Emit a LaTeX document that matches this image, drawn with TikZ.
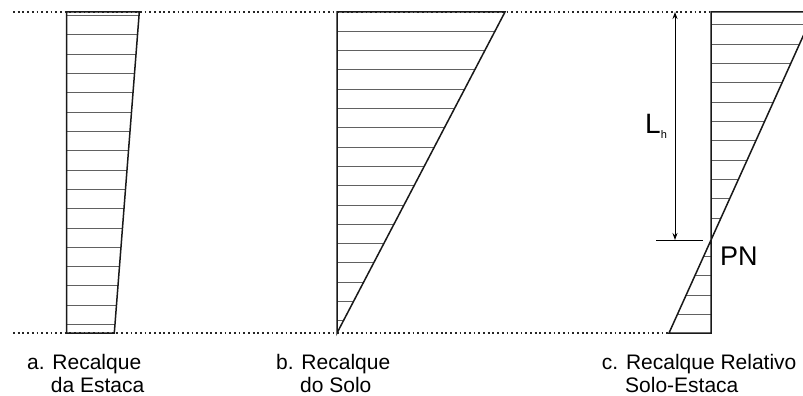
\documentclass[tikz,border=0pt]{standalone}
\usepackage{fontspec}
\setmainfont{Liberation Sans}
\usetikzlibrary{arrows.meta}

\begin{document}
\begin{tikzpicture}[x=1pt,y=-1pt,
  outline/.style={draw=black!90,line width=1.5pt,line join=miter},
  hatch/.style={draw=black!62,line width=1pt},
  datum/.style={draw=black!85,line width=1.5pt,dash pattern=on 1.8pt off 2.9pt},
  caption/.style={anchor=base west,inner sep=0pt,font=\fontsize{21}{24}\selectfont},
  dimline/.style={draw=black,line width=1pt,{Stealth[length=7pt,width=5pt]}-{Stealth[length=7pt,width=5pt]}}]
\useasboundingbox (0,0) rectangle (803,396);
\fill[white] (0,0) rectangle (803,396);
\begin{scope}
\clip (0,0) rectangle (803,396);
% datum lines
\draw[datum] (13,12) -- (711,12);
\draw[datum] (13,333) -- (669,333);
% a. pile settlement
\begin{scope}
\clip (66.7,12) -- (139.3,12) -- (114.3,333) -- (66.7,333) -- cycle;
\foreach \k in {0,...,16} \draw[hatch] (60,15.7+19.3*\k) -- (150,15.7+19.3*\k);
\end{scope}
\draw[outline] (66.7,12) -- (139.3,12) -- (114.3,333) -- (66.7,333) -- cycle;
% b. soil settlement
\begin{scope}
\clip (337,12) -- (505,12) -- (337,333) -- cycle;
\foreach \k in {1,...,16} \draw[hatch] (330,12+19.3*\k) -- (510,12+19.3*\k);
\end{scope}
\draw[outline] (337,12) -- (505,12) -- (337,333) -- cycle;
% c. relative settlement
\begin{scope}
\clip (711,12) -- (814,12) -- (711,240) -- cycle (711,240) -- (711,333) -- (669,333) -- cycle;
\foreach \k in {0,...,15} \draw[hatch] (660,25+19.3*\k) -- (820,25+19.3*\k);
\end{scope}
\draw[outline] (814,12) -- (711,12) -- (711,333) -- (669,333) -- cycle;
\end{scope}
% neutral plane
\coordinate (lhTop) at (675,12);
\coordinate (lhBot) at (675,240);
\coordinate (pnL) at (656,240);
\coordinate (pnR) at (703,240);
\draw[dimline] (lhTop) -- (lhBot);
\draw[line width=1pt] (pnL) -- (pnR);
\node[anchor=base west,inner sep=0pt] (lh) at (645,133.3) {\fontsize{28}{30}\selectfont L\fontsize{11}{12}\selectfont\raisebox{-4.7pt}{h}};
\node[anchor=base west,inner sep=0pt,font=\fontsize{27}{30}\selectfont] (pn) at (720,265) {PN};
% captions
\node[caption] (capA) at (27,369) {a. Recalque};
\node[caption] (capAb) at (50.7,392) {da Estaca};
\node[caption] (capB) at (276,369) {b. Recalque};
\node[caption] (capBb) at (300,392) {do Solo};
\node[caption] (capC) at (601.7,369) {c. Recalque Relativo};
\node[caption] (capCb) at (625,392) {Solo-Estaca};
\end{tikzpicture}
\end{document}
